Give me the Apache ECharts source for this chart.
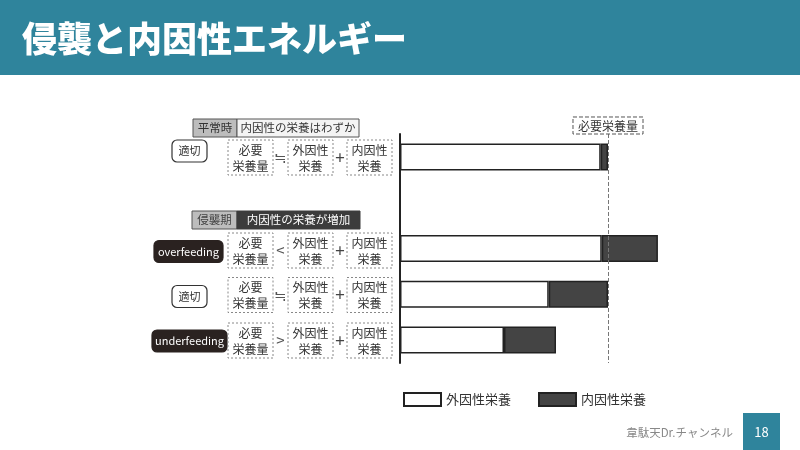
<!DOCTYPE html>
<html>
<head>
<meta charset="utf-8">
<script src="https://cdn.jsdelivr.net/npm/echarts@6/dist/echarts.min.js"></script>
<style>
  html, body { margin: 0; padding: 0; background: #fff; }
  #chart { width: 800px; height: 450px; }
</style>
</head>
<body>
<div id="chart"></div>
<script>
// bar rows (top to bottom), the empty one is the gap between 平常時 and 侵襲期
const categories = ['平常時・適切', '', '侵襲期・overfeeding', '侵襲期・適切', '侵襲期・underfeeding']
const exogenous = [96.5, '-', 97, 71.5, 50]
const endogenous = [3.5, '-', 27, 28.5, 25]
const requiredLevel = 100
const seriesNames = ['外因性栄養', '内因性栄養']

// left hand diagram texts
const rowLabels = ['適切', 'overfeeding', '適切', 'underfeeding']
const rowSigns = ['≒', '<', '≒', '>']
const boxTexts = ['必要\n栄養量', '外因性\n栄養', '内因性\n栄養']

const FONT = '"Noto Sans CJK JP", "Noto Sans", sans-serif'
const TEAL = '#2f849c'

const chart = echarts.init(document.getElementById('chart'))

function txt(text, x, y, size, color, extra) {
    return {
        type: 'text',
        silent: true,
        style: Object.assign({
            text: text, x: x, y: y,
            fontSize: size, fontFamily: FONT,
            fill: color, align: 'center', verticalAlign: 'middle'
        }, extra || {})
    }
}

function rect(x, y, w, h, fill, stroke, extra) {
    return {
        type: 'rect',
        silent: true,
        shape: { x: x, y: y, width: w, height: h, r: (extra && extra.r) || 0 },
        style: Object.assign({ fill: fill, stroke: stroke, lineWidth: 1 }, (extra && extra.style) || {})
    }
}

function buildGraphic() {
    const g = []
    // header band
    g.push(rect(0, 0, 800, 75, TEAL, null))
    g.push(txt('侵襲と内因性エネルギー', 22, 39, 35, '#fff', { align: 'left', fontWeight: 900 }))

    // phase headers
    g.push(rect(193, 119, 44, 18, '#bdbdbd', '#555'))
    g.push(txt('平常時', 215, 128, 11.5, '#333'))
    g.push(rect(237, 119, 122, 18, '#f4f4f4', '#555'))
    g.push(txt('内因性の栄養はわずか', 298, 128, 11.5, '#333'))

    g.push(rect(192, 211, 45, 18, '#bdbdbd', '#555'))
    g.push(txt('侵襲期', 214.5, 220, 11.5, '#444'))
    g.push(rect(237, 211, 123, 18, '#3c3c3c', '#3c3c3c'))
    g.push(txt('内因性の栄養が増加', 298.5, 220, 11.5, '#fff'))

    // rows
    const boxY = [157.5, 250.5, 295, 340.5]
    const pillY = [151, 251.5, 296.5, 341]
    const pillX = [[172, 35], [154, 69], [172, 35], [152, 75]]
    const boxX = [228, 288, 347]
    rowLabels.forEach((label, i) => {
        const dark = label !== '適切'
        const px = pillX[i][0], pw = pillX[i][1]
        g.push(rect(px, pillY[i] - 11, pw, 22, dark ? '#2a2220' : '#fff', dark ? '#2a2220' : '#333',
            { r: 5, style: { lineWidth: 1.2 } }))
        g.push(txt(label, px + pw / 2, pillY[i], 11, dark ? '#fff' : '#333'))

        boxTexts.forEach((t, j) => {
            g.push(rect(boxX[j], boxY[i] - 17.5, 45, 35, '#fff', '#888', { style: { lineDash: [2, 2] } }))
            g.push(txt(t, boxX[j] + 22.5, boxY[i] + 0.5, 12, '#333', { lineHeight: 16 }))
        })
        g.push(txt(rowSigns[i], 280.5, boxY[i], 15, '#555'))
        g.push(txt('+', 340, boxY[i], 17, '#444'))
    })

    // footer
    g.push(txt('韋駄天Dr.チャンネル', 733, 433, 11.5, '#888', { align: 'right' }))
    g.push(rect(743, 413, 37, 37, TEAL, null))
    g.push(txt('18', 761.5, 432, 13, '#fff'))
    return g
}

const option = {
    animation: false,
    backgroundColor: '#fff',
    textStyle: { fontFamily: FONT },
    grid: { left: 400, top: 134, width: 260, height: 229 },
    legend: {
        left: 398,
        top: 387,
        icon: 'rect',
        itemWidth: 37,
        itemHeight: 13,
        itemGap: 27,
        textStyle: { fontSize: 13, color: '#333', fontFamily: FONT },
        data: seriesNames
    },
    xAxis: {
        type: 'value',
        min: 0,
        max: 125,
        show: false
    },
    yAxis: {
        type: 'category',
        inverse: true,
        data: categories,
        axisLine: { show: true, lineStyle: { color: '#222', width: 2 } },
        axisTick: { show: false },
        axisLabel: { show: false }
    },
    series: [
        {
            name: seriesNames[0],
            type: 'bar',
            stack: 'total',
            barWidth: 27,
            itemStyle: { color: '#fff', borderColor: '#222', borderWidth: 1.5 },
            data: exogenous,
            markLine: {
                silent: true,
                symbol: 'none',
                lineStyle: { color: '#777', type: 'dashed', width: 1 },
                label: {
                    show: true,
                    position: 'start',
                    formatter: '必要栄養量',
                    fontSize: 12,
                    color: '#333',
                    fontFamily: FONT,
                    borderColor: '#555',
                    borderWidth: 1,
                    borderType: 'dashed',
                    padding: [3, 5, 2, 5],
                    distance: 0
                },
                data: [{ xAxis: requiredLevel }]
            }
        },
        {
            name: seriesNames[1],
            type: 'bar',
            stack: 'total',
            barWidth: 27,
            itemStyle: { color: '#444', borderColor: '#222', borderWidth: 1.5 },
            data: endogenous
        }
    ],
    graphic: buildGraphic()
}

chart.setOption(option)
</script>
</body>
</html>
